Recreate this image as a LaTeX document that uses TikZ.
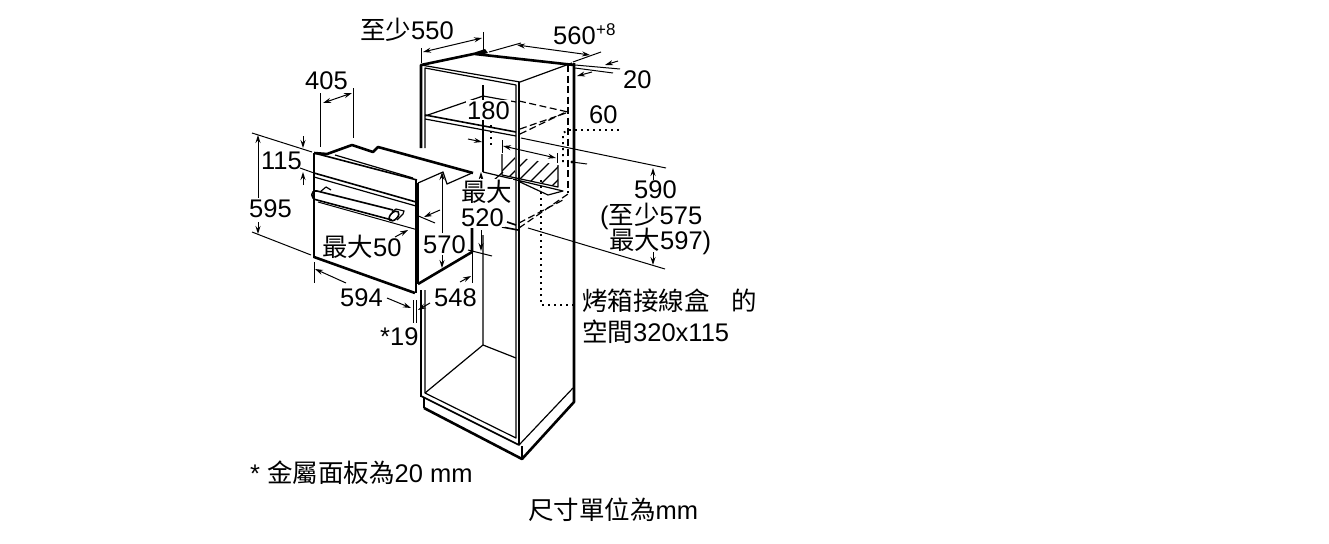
\documentclass[tikz,border=0pt]{standalone}
\usepackage{fontspec}
\setmainfont{Liberation Sans}
\newfontfamily\cjk{Noto Sans CJK TC}
\usetikzlibrary{arrows.meta}
\newcommand{\zh}[1]{{\cjk #1}}
\tikzset{
  thinln/.style={line width=1.2pt,black},
  medln/.style={line width=1.6pt,black},
  thickln/.style={line width=2.6pt,black},
  dimln/.style={line width=1pt,black},
  dimarr/.style={line width=1pt,black,-{Stealth[length=8pt,width=5pt]}},
  dimboth/.style={line width=1pt,black,{Stealth[length=8pt,width=5pt]}-{Stealth[length=8pt,width=5pt]}},
  hiddenln/.style={line width=1.2pt,black,dash pattern=on 7pt off 3.5pt},
  dotln/.style={line width=1.8pt,black,dash pattern=on 1.8pt off 4.2pt},
  lbl/.style={anchor=base west,inner sep=0pt,font=\fontsize{25.5}{28}\selectfont},
  lblw/.style={lbl,fill=white,inner sep=1pt}
}
\begin{document}
\begin{tikzpicture}[x=1pt,y=-1pt,line join=round]
\useasboundingbox (0,0) rectangle (1329,543);
% ---- hatched socket zone
\begin{scope}
\clip (502,154) -- (558,165) -- (558,187) -- (502,175) -- cycle;
\foreach \i in {0,...,8}{\draw[line width=1.2pt] ({478+\i*13},195) -- ({523+\i*13},150);}
\end{scope}
\fill[white] (515,150) rectangle (520,195);
\draw[thinln] (502,154) -- (502,175) -- (558,187) -- (558,165);
% ---- cabinet
\draw[thickln] (421,148) -- (421,65) -- (483,52);
\draw[thickln] (475,54) -- (574,65);
\fill (476,52) -- (485,49) -- (488,53) -- (480,55) -- cycle;
\draw[thickln] (574,63) -- (574,402) -- (522,459) -- (424,408);
\draw[thinln] (424,398) -- (424,408);
\draw[thickln] (421,290) -- (421,397);
\draw[thinln] (421,65) -- (520,82) -- (572,63);
\draw[thinln] (425,148) -- (425,68) -- (516,85) -- (516,438) -- (425,393) -- (425,290);
\draw[medln] (519,82) -- (519,445) -- (421,396);
\draw[thinln] (519,445) -- (573,388);
\draw[thinln] (522,446) -- (522,459);
% back wall and floor
\draw[thinln] (483,85) -- (483,172);
\draw[thinln] (483,235) -- (483,345) -- (425,393);
\draw[thinln] (483,345) -- (516,358);
% upper shelf
\draw[thinln] (425,116) -- (483,96) -- (516,102);
\draw[medln] (425,115) -- (516,132);
\draw[thinln] (425,119) -- (516,136);
% lower shelf
\draw[thinln] (483,172) -- (563,191) -- (548,195) -- (520,182);
\draw[thinln] (494,180) -- (503,172);
\draw[medln] (507,222) -- (516,225);
\draw[medln] (502,227) -- (518,230);
% hidden back edges
\draw[hiddenln] (568,65) -- (568,193);
\draw[hiddenln] (519,101) -- (568,112);
\draw[hiddenln] (520,134) -- (568,111);
\draw[hiddenln] (520,129) -- (566,113);
\draw[hiddenln] (519,228) -- (568,194);
\draw[hiddenln] (519,223) -- (563,200);
% ---- oven
\fill[white] (314,153) -- (327,154) -- (352,145) -- (373,152) -- (378,147) -- (473,173) -- (472,252) -- (418,283) -- (415,293) -- (314,257) -- cycle;
\draw[thickln] (314,153) -- (327,154) -- (352,145) -- (373,152) -- (378,147) -- (473,173);
\draw[medln] (314,153) -- (417,180);
\draw[thinln] (335,155) -- (413,178);
\draw[thinln] (418,183) -- (443,172) -- (447,184) -- (472,173);
\draw[medln] (314,153) -- (314,258);
\draw[thickln] (314,257) -- (415,293);
\draw[medln] (416,180) -- (416,293);
\draw[thinln] (418,183) -- (418,284);
\draw[medln] (314,173) -- (416,202);
\draw[thinln] (314,177) -- (416,206);
\draw[thickln] (418,284) -- (472,252) -- (472,228);
% handle
\draw[medln] (393,210) -- (317,191) .. controls (310,190) and (310,199) .. (317,200) -- (392,220);
\draw[thinln] (320,192) -- (326,187) -- (331,190);
\draw[medln,rotate around={-45:(394,216)}] (394,216) ellipse (3.5pt and 6pt);
\draw[thinln] (392,212) -- (396,209) -- (404,211) -- (403,214) -- (397,220);
% ---- extension lines and dimension arrows
\draw[dimln] (320,93) -- (320,147);
\draw[dimln] (353,88) -- (353,138);
\draw[dimboth] (323,103) -- (352,93);
\draw[dimln] (252,133) -- (312,152);
\draw[dimln] (300,168) -- (314,173);
\draw[dimarr] (303,136) -- (303,148);
\draw[dimarr] (303,185) -- (303,172);
\draw[dimln] (252,232) -- (311,255);
\draw[dimarr] (258,198) -- (258,135);
\draw[dimarr] (258,222) -- (258,234);
\draw[dimln] (314,262) -- (314,283);
\draw[dimarr] (346,283) -- (315,269);
\draw[dimarr] (387,298) -- (411,308);
\draw[dimln] (413,300) -- (413,323);
\draw[dimln] (416,300) -- (416,323);
\draw[dimarr] (430,303) -- (418,310);
\draw[dimln] (472,252) -- (472,283);
\draw[dimarr] (460,282) -- (471,276);
\draw[dimln] (318,202) -- (418,230);
\draw[dimarr] (395,237) -- (408,230);
\draw[dimln] (416,215) -- (435,223);
\draw[dimarr] (440,210) -- (424,217);
\draw[dimarr] (442,233) -- (442,172);
\draw[dimarr] (442,255) -- (442,268);
\draw[dimarr] (481,182) -- (481,172);
\draw[dimarr] (481,230) -- (481,251);
\draw[dimln] (468,250) -- (492,256);
% 550
\draw[dimln] (421,48) -- (421,63);
\draw[dimln] (483,32) -- (483,50);
\draw[dimboth] (423,52) -- (482,38);
% 560
\draw[dimln] (521,43) -- (489,52);
\draw[dimln] (601,52) -- (573,62);
\draw[dimboth] (517,45) -- (590,55);
% 20
\draw[dimln] (575,65) -- (620,69);
\draw[dimln] (575,68) -- (613,73);
\draw[dimarr] (618,61) -- (605,65);
\draw[dimarr] (592,72) -- (577,76);
% 180 / 60 area
\draw[dimarr] (468,139) -- (482,142);
\draw[dimln] (502,140) -- (502,153);
\draw[dimln] (557,153) -- (557,163);
\draw[dimboth] (503,146) -- (556,158);
\draw[dimln] (572,162) -- (587,164);
\fill (572,162) circle (1.7pt);
% 590
\draw[dimln] (521,138) -- (666,168);
\draw[dimln] (528,228) -- (665,269);
\draw[dimarr] (653,180) -- (653,168);
\draw[dimarr] (653,252) -- (653,265);
% dotted lines
\draw[dotln] (491,125) -- (491,146);
\draw[dotln] (563,162) -- (563,133) -- (568,130) -- (620,130);
\draw[dotln] (541,180) -- (541,305) -- (577,305);
% ---- labels
\node[lbl] (t550) at (360,40) {\zh{至少}550};
\node[lbl] (t560) at (553,45) {560};
\node[anchor=base west,inner sep=0pt,font=\fontsize{17}{18}\selectfont] (t8) at (596,36) {+8};
\node[lbl] (t20) at (623,88) {20};
\node[lbl] (t60) at (589,123) {60};
\node[lblw] (t180) at (466,119) {180};
\node[lbl] (t405) at (305,89) {405};
\node[lbl] (t115) at (261,169) {115};
\node[lbl] (t595) at (249,217) {595};
\node[lblw] (tmax) at (460,201) {\zh{最大}};
\node[lblw] (t520) at (460,226) {520};
\node[lbl] (tmax50) at (322,256) {\zh{最大}50};
\node[lbl] (t570) at (423,253) {570};
\node[lbl] (t594) at (340,306) {594};
\node[lbl] (t548) at (434,306) {548};
\node[lbl] (t19) at (380,345) {*19};
\node[lbl] (t590) at (634,198) {590};
\node[lbl] (t575) at (600,224) {(\zh{至少}575};
\node[lbl] (t597) at (609,249) {\zh{最大}597)};
\node[lbl] (tbox1) at (582,310) {\zh{烤箱接線盒}\hspace{22pt}\zh{的}};
\node[lbl] (tbox2) at (582,341) {\zh{空間}320x115};
\node[lbl] (tnote) at (250,482) {* \zh{金屬面板為}20 mm};
\node[lbl] (tunit) at (528,519) {\zh{尺寸單位為}mm};
\end{tikzpicture}
\end{document}
